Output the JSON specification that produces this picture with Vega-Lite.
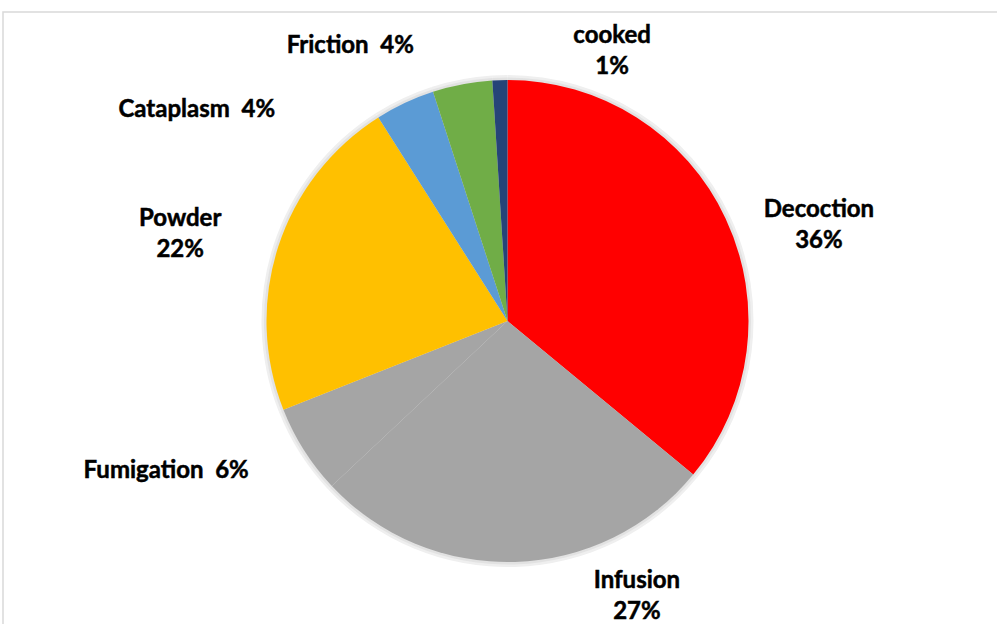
{
  "$schema": "https://vega.github.io/schema/vega-lite/v6.json",
  "width": 1009,
  "height": 618,
  "autosize": {"type": "none"},
  "padding": {"left": 3, "top": 12, "right": -15, "bottom": -6},
  "background": "white",
  "view": {"stroke": "#D9D9D9", "strokeWidth": 1.5},
  "config": {"text": {"font": "Lato", "fontWeight": "bold", "fontSize": 24, "color": "#000000", "stroke": "#000000", "strokeWidth": 0.5}},
  "data": {
    "values": [
      {"order": 1, "method": "Decoction", "pct": 36, "label": "Decoction\n36%"},
      {"order": 2, "method": "Infusion", "pct": 27, "label": "Infusion\n27%"},
      {"order": 3, "method": "Fumigation", "pct": 6, "label": "Fumigation\u00a0 6%"},
      {"order": 4, "method": "Powder", "pct": 22, "label": "Powder\n22%"},
      {"order": 5, "method": "Cataplasm", "pct": 4, "label": "Cataplasm\u00a0 4%"},
      {"order": 6, "method": "Friction", "pct": 4, "label": "Friction\u00a0 4%"},
      {"order": 7, "method": "cooked", "pct": 1, "label": "cooked\n1%"}
    ]
  },
  "transform": [
    {"stack": "pct", "groupby": [], "sort": [{"field": "order", "order": "ascending"}], "as": ["p0", "p1"]},
    {"calculate": "(datum.p0 + datum.p1) / 2", "as": "pmid"}
  ],
  "layer": [
    {
      "mark": {"type": "arc", "radius": 246, "color": "#EFEFEF"},
      "encoding": {
        "theta": {"field": "p0", "type": "quantitative", "stack": null, "scale": {"domain": [0, 100]}},
        "theta2": {"field": "p1"}
      }
    },
    {
      "mark": {"type": "arc", "radius": 243.5, "color": "#E2E2E2"},
      "encoding": {
        "theta": {"field": "p0", "type": "quantitative", "stack": null, "scale": {"domain": [0, 100]}},
        "theta2": {"field": "p1"}
      }
    },
    {
      "mark": {"type": "arc", "radius": 241},
      "encoding": {
        "theta": {"field": "p0", "type": "quantitative", "stack": null, "scale": {"domain": [0, 100]}},
        "theta2": {"field": "p1"},
        "color": {
          "field": "method",
          "type": "nominal",
          "legend": null,
          "scale": {
            "domain": ["Decoction", "Infusion", "Fumigation", "Powder", "Cataplasm", "Friction", "cooked"],
            "range": ["#FF0000", "#A5A5A5", "#A5A5A5", "#FFC000", "#5B9BD5", "#70AD47", "#264478"]
          }
        }
      }
    },
    {
      "transform": [{"filter": "datum.method === 'Decoction'"}],
      "mark": {"type": "text", "radius": 300, "dx": 40, "dy": 17, "lineBreak": "\n", "lineHeight": 31, "align": "center", "baseline": "middle"},
      "encoding": {"theta": {"field": "pmid", "type": "quantitative", "stack": null, "scale": {"domain": [0, 100]}}, "text": {"field": "label"}}
    },
    {
      "transform": [{"filter": "datum.method === 'Infusion'"}],
      "mark": {"type": "text", "radius": 300, "dx": 120, "dy": -40, "lineBreak": "\n", "lineHeight": 31, "align": "center", "baseline": "middle"},
      "encoding": {"theta": {"field": "pmid", "type": "quantitative", "stack": null, "scale": {"domain": [0, 100]}}, "text": {"field": "label"}}
    },
    {
      "transform": [{"filter": "datum.method === 'Fumigation'"}],
      "mark": {"type": "text", "radius": 300, "dx": -88, "dy": -11, "lineBreak": "\n", "lineHeight": 31, "align": "center", "baseline": "middle"},
      "encoding": {"theta": {"field": "pmid", "type": "quantitative", "stack": null, "scale": {"domain": [0, 100]}}, "text": {"field": "label"}}
    },
    {
      "transform": [{"filter": "datum.method === 'Powder'"}],
      "mark": {"type": "text", "radius": 300, "dx": -42, "dy": -9, "lineBreak": "\n", "lineHeight": 31, "align": "center", "baseline": "middle"},
      "encoding": {"theta": {"field": "pmid", "type": "quantitative", "stack": null, "scale": {"domain": [0, 100]}}, "text": {"field": "label"}}
    },
    {
      "transform": [{"filter": "datum.method === 'Cataplasm'"}],
      "mark": {"type": "text", "radius": 300, "dx": -183, "dy": 60, "lineBreak": "\n", "lineHeight": 31, "align": "center", "baseline": "middle"},
      "encoding": {"theta": {"field": "pmid", "type": "quantitative", "stack": null, "scale": {"domain": [0, 100]}}, "text": {"field": "label"}}
    },
    {
      "transform": [{"filter": "datum.method === 'Friction'"}],
      "mark": {"type": "text", "radius": 300, "dx": -101, "dy": 20, "lineBreak": "\n", "lineHeight": 31, "align": "center", "baseline": "middle"},
      "encoding": {"theta": {"field": "pmid", "type": "quantitative", "stack": null, "scale": {"domain": [0, 100]}}, "text": {"field": "label"}}
    },
    {
      "transform": [{"filter": "datum.method === 'cooked'"}],
      "mark": {"type": "text", "radius": 300, "dx": 114, "dy": 15, "lineBreak": "\n", "lineHeight": 31, "align": "center", "baseline": "middle"},
      "encoding": {"theta": {"field": "pmid", "type": "quantitative", "stack": null, "scale": {"domain": [0, 100]}}, "text": {"field": "label"}}
    }
  ]
}
